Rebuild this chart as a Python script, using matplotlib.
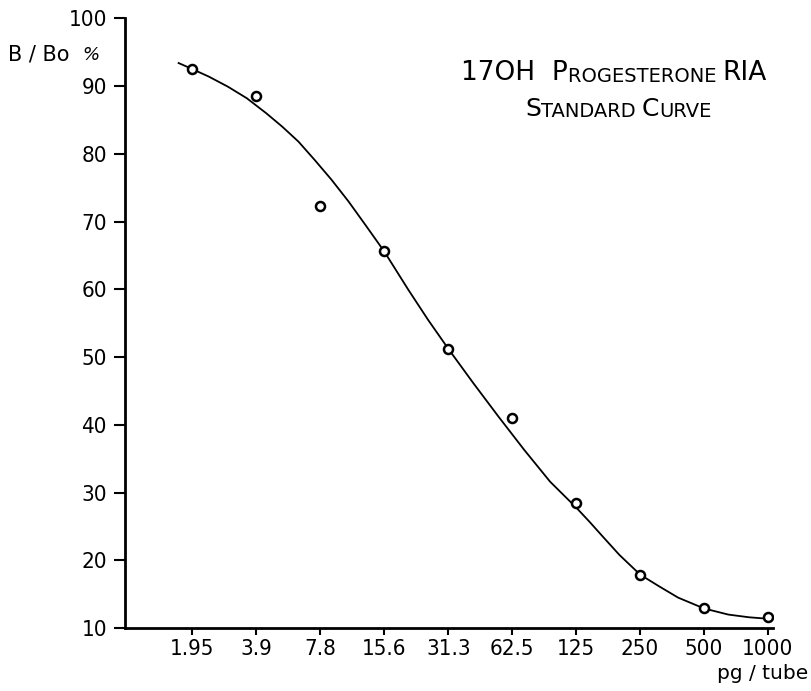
import matplotlib
matplotlib.use("Agg")
import matplotlib.pyplot as plt
from matplotlib import font_manager
from matplotlib.ticker import FixedLocator, NullLocator

# standard points (B/Bo %)
dose = [1.95, 3.9, 7.8, 15.6, 31.3, 62.5, 125, 250, 500, 1000]
bbo = [92.5, 88.6, 72.3, 65.6, 51.2, 41.0, 28.5, 17.9, 12.9, 11.6]
dose_labels = ["1.95", "3.9", "7.8", "15.6", "31.3", "62.5", "125", "250", "500", "1000"]

# fitted curve
curve_x = [1.68, 1.95, 2.33, 2.87, 3.52, 4.34, 5.17, 6.16, 7.34, 8.80, 10.58,
           12.73, 15.6, 20.3, 25.1, 31.3, 40.9, 53.9, 71.2, 94.3, 125, 144.4,
           166.9, 199.8, 250, 306, 377.5, 500, 650, 814, 982]
curve_y = [93.4, 92.5, 91.4, 89.9, 88.2, 86.0, 84.0, 81.8, 79.1, 76.2, 73.0,
           69.5, 65.6, 59.9, 55.5, 51.2, 46.2, 41.2, 36.3, 31.6, 27.8, 25.7,
           23.5, 20.8, 17.9, 16.2, 14.5, 12.9, 12.0, 11.6, 11.4]

yticks = [10, 20, 30, 40, 50, 60, 70, 80, 90, 100]

# narrow digits like the scanned typeface, if a narrow face is around
names = {f.name for f in font_manager.fontManager.ttflist}
condensed = any(f.name == "DejaVu Sans" and f.stretch == "condensed"
                for f in font_manager.fontManager.ttflist)
if "Liberation Sans Narrow" in names:
    num_font, num_stretch = "Liberation Sans Narrow", "normal"
elif condensed:
    num_font, num_stretch = "DejaVu Sans", "condensed"
else:
    num_font, num_stretch = "DejaVu Sans", "normal"

fig = plt.figure(figsize=(8.12, 6.91), dpi=100)
ax = fig.add_axes([0.154, 0.091, 0.798, 0.8825])

ax.plot(curve_x, curve_y, color="black", lw=1.3, zorder=2)
ax.plot(dose, bbo, "o", ms=6.5, mfc="white", mec="black", mew=1.8, zorder=3)

ax.set_xscale("log", base=2)
ax.set_xlim(0.94, 1056)
ax.set_ylim(10, 100)

ax.xaxis.set_major_locator(FixedLocator(dose))
ax.xaxis.set_minor_locator(NullLocator())
ax.set_xticklabels(dose_labels)
ax.set_yticks(yticks)

for s in ["top", "right"]:
    ax.spines[s].set_visible(False)
for s in ["left", "bottom"]:
    ax.spines[s].set_linewidth(2)

ax.tick_params(axis="y", length=8, width=1.5, pad=5, labelsize=16)
ax.tick_params(axis="x", length=5, width=1.5, pad=3, labelsize=16)
for lab in ax.get_xticklabels() + ax.get_yticklabels():
    lab.set_family(num_font)
    lab.set_stretch(num_stretch)

# axis captions
fig.text(8 / 812, 1 - 60 / 691, "B / Bo", fontsize=15, family="DejaVu Sans",
         ha="left", va="baseline")
fig.text(82 / 812, 1 - 60 / 691, "%", fontsize=13, style="italic",
         family="DejaVu Sans", ha="left", va="baseline")
fig.text(808 / 812, 1 - 679 / 691, "pg / tube", fontsize=14.5,
         family="DejaVu Sans", ha="right", va="baseline")

# title in small caps
big, small = 19, 14
t1 = fig.text(461 / 812, 1 - 80 / 691, "17OH  P", fontsize=big,
              family="DejaVu Sans", ha="left", va="baseline")
t2 = ax.annotate("ROGESTERONE ", xy=(1, 0), xycoords=t1, fontsize=small,
                 family="DejaVu Sans", ha="left", va="bottom")
ax.annotate("RIA", xy=(1, 0), xycoords=t2, fontsize=big,
            family="DejaVu Sans", ha="left", va="bottom")

s1 = fig.text(525 / 812, 1 - 116 / 691, "S", fontsize=big - 1,
              family="DejaVu Sans", ha="left", va="baseline")
s2 = ax.annotate("TANDARD ", xy=(1, 0), xycoords=s1, fontsize=small,
                 family="DejaVu Sans", ha="left", va="bottom")
s3 = ax.annotate("C", xy=(1, 0), xycoords=s2, fontsize=big - 1,
                 family="DejaVu Sans", ha="left", va="bottom")
ax.annotate("URVE", xy=(1, 0), xycoords=s3, fontsize=small,
            family="DejaVu Sans", ha="left", va="bottom")

fig.savefig("out.png", dpi=100)
